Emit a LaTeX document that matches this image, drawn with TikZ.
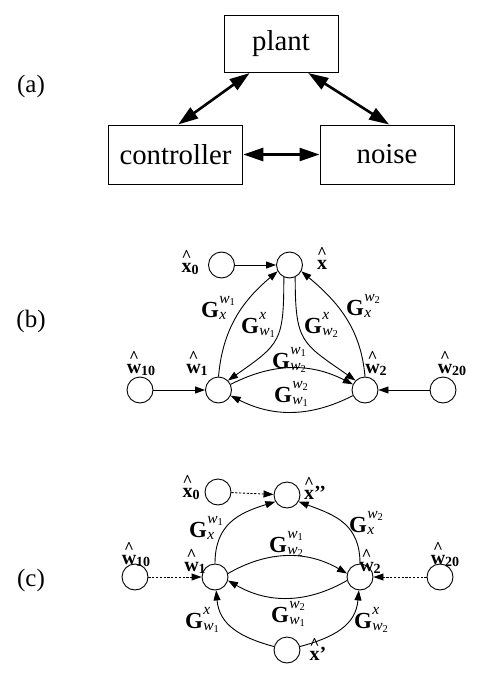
\documentclass[tikz,border=0pt]{standalone}
\usepackage{fontspec}
\setmainfont{Liberation Serif}
\usetikzlibrary{arrows.meta}
\newcommand{\gsz}{\fontsize{15.5}{15.5}\selectfont}
\newcommand{\isz}{\fontsize{10.5}{10.5}\selectfont}
\newcommand{\wi}[1]{\textit{w}\raisebox{-2.5pt}{\isz #1}}
\newcommand{\xit}{\textit{x}}
\newcommand{\Gl}[2]{\textbf{G}\kern0.3pt{\gsz\setbox0\hbox{#1}\setbox2\hbox{#2}%
  \ifdim\wd0>\wd2 \rlap{\raisebox{-2pt}{\box2}}\raisebox{14pt}{\box0}%
  \else\rlap{\raisebox{14pt}{\box0}}\raisebox{-2pt}{\box2}\fi}}
\newcommand{\hatl}[1]{\begin{tabular}[b]{@{}c@{}}{\fontsize{17}{17}\selectfont\char94}\\[-12.4pt]#1\end{tabular}}
\newcommand{\hsub}[1]{\raisebox{-1.5pt}{\fontsize{14}{14}\selectfont #1}}
\begin{document}
\begin{tikzpicture}[x=1pt,y=1pt,
  box/.style={draw,line width=1pt,inner sep=0pt,font=\fontsize{28.8}{34}\selectfont},
  bigarr/.style={line width=2.6pt,{Triangle[length=20pt,width=13pt]}-{Triangle[length=20pt,width=13pt]}},
  st/.style={circle,draw,line width=0.9pt,minimum size=26pt,inner sep=0pt},
  ar/.style={line width=0.9pt,-{Triangle[length=10pt,width=7pt]}},
  dar/.style={ar,dash pattern=on 2.2pt off 1.6pt},
  gl/.style={font=\fontsize{23}{27}\selectfont,inner sep=0pt,anchor=base west},
  hl/.style={font=\fontsize{20}{24}\selectfont\bfseries,inner sep=0pt},
  pl/.style={font=\fontsize{25}{30}\selectfont,inner sep=0pt}]
\useasboundingbox (0,0) rectangle (485,-685);

% ---------------- (a)
\node[pl] (la) at (31,-86) {(a)};
\node[box,minimum width=114pt,minimum height=57.5pt] (plant) at (281,-43.8) {plant};
\node[box,minimum width=134.5pt,minimum height=59pt] (ctrl) at (175.5,-154.5) {controller};
\node[box,minimum width=134pt,minimum height=59pt] (noise) at (387,-154.5) {noise};
\draw[bigarr] (plant.223) -- (ctrl.85);
\draw[bigarr] (plant.313) -- (noise.86);
\draw[bigarr] (ctrl.east) -- (noise.west);

% ---------------- (b)
\node[pl] (lb) at (31,-321) {(b)};
\node[st] (bx0) at (221.5,-265) {};
\node[st] (bx) at (289.5,-265) {};
\node[st] (bw1) at (218.5,-390) {};
\node[st] (bw2) at (365,-390) {};
\node[st] (bw10) at (140,-390) {};
\node[st] (bw20) at (443,-390) {};
\node[hl] (lbx0) at (190,-262) {\hatl{x}\hsub{0}};
\node[hl] (lbx) at (322,-259) {\hatl{x}};
\node[hl] (lbw10) at (141,-363) {\hatl{w}\hsub{10}};
\node[hl] (lbw1) at (197,-363) {\hatl{w}\hsub{1}};
\node[hl] (lbw2) at (376,-363) {\hatl{w}\hsub{2}};
\node[hl] (lbw20) at (452,-363) {\hatl{w}\hsub{20}};
\node[gl] (gb1) at (201,-317) {\Gl{\wi{1}}{\xit}};
\node[gl] (gb2) at (241,-333) {\Gl{\xit}{\wi{1}}};
\node[gl] (gb3) at (304,-333) {\Gl{\xit}{\wi{2}}};
\node[gl] (gb4) at (346,-315) {\Gl{\wi{2}}{\xit}};
\node[gl] (gb5) at (272,-368) {\Gl{\wi{1}}{\wi{2}}};
\node[gl] (gb6) at (274,-402) {\Gl{\wi{2}}{\wi{1}}};
\draw[ar] (bx0) -- (bx);
\draw[ar] (bw10) -- (bw1);
\draw[ar] (bw20) -- (bw2);
\draw[ar] (bw1.90) to[out=85,in=220] (bx.208);
\draw[ar] (bw2.90) to[out=95,in=-40] (bx.332);
\draw[ar] (bx.245) to[out=270,in=35,looseness=1.4] (bw1.45);
\draw[ar] (bx.295) to[out=270,in=145,looseness=1.4] (bw2.135);
\draw[ar] (bw1.25) to[bend left=27] (bw2.155);
\draw[ar] (bw2.205) to[bend left=27] (bw1.335);

% ---------------- (c)
\node[pl] (lc) at (31,-580) {(c)};
\node[st] (cx0) at (218,-492) {};
\node[st] (cx2) at (287,-495) {};
\node[st] (cw1) at (215,-577) {};
\node[st] (cw2) at (360,-577) {};
\node[st] (cw10) at (135,-577) {};
\node[st] (cw20) at (440,-577) {};
\node[st] (cxp) at (287,-650) {};
\node[hl] (lcx0) at (191,-487) {\hatl{x}\hsub{0}};
\node[hl] (lcx2) at (315,-489) {\hatl{x}\textquoteright\textquoteright};
\node[hl] (lcw10) at (136,-554) {\hatl{w}\hsub{10}};
\node[hl] (lcw1) at (195,-561) {\hatl{w}\hsub{1}};
\node[hl] (lcw2) at (370,-561) {\hatl{w}\hsub{2}};
\node[hl] (lcw20) at (445,-554) {\hatl{w}\hsub{20}};
\node[hl] (lcxp) at (318,-650) {\hatl{x}\textquoteright};
\node[gl] (gc1) at (189,-537) {\Gl{\wi{1}}{\xit}};
\node[gl] (gc2) at (269,-552) {\Gl{\wi{1}}{\wi{2}}};
\node[gl] (gc3) at (349,-532) {\Gl{\wi{2}}{\xit}};
\node[gl] (gc4) at (271,-622) {\Gl{\wi{2}}{\wi{1}}};
\node[gl] (gc5) at (185,-628) {\Gl{\xit}{\wi{1}}};
\node[gl] (gc6) at (354,-628) {\Gl{\xit}{\wi{2}}};
\draw[dar] (cx0) -- (cx2);
\draw[dar] (cw10) -- (cw1);
\draw[dar] (cw20) -- (cw2);
\draw[ar] (cw1.90) to[out=90,in=197,looseness=1.15] (cx2.210);
\draw[ar] (cw2.90) to[out=90,in=-20,looseness=1.15] (cx2.330);
\draw[ar] (cw1.15) to[bend left=30] (cw2.165);
\draw[ar] (cw2.195) to[bend left=30] (cw1.345);
\draw[ar] (cxp.165) to[out=165,in=275,looseness=1.1] (cw1.275);
\draw[ar] (cxp.15) to[out=15,in=265,looseness=1.1] (cw2.265);
\end{tikzpicture}
\end{document}
